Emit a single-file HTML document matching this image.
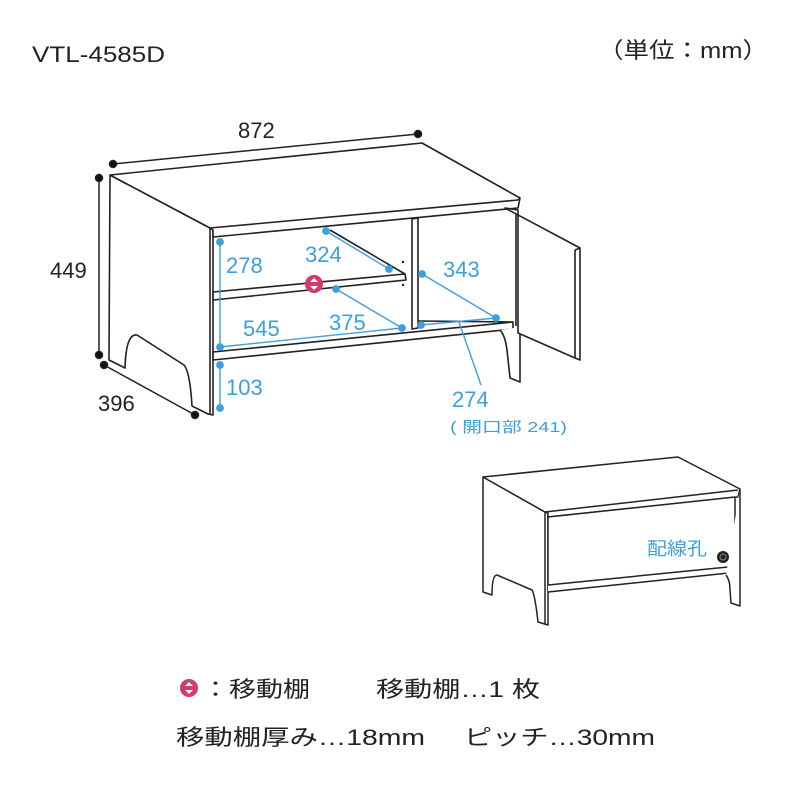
<!DOCTYPE html>
<html><head><meta charset="utf-8"><style>
body{margin:0;background:#fff}
svg{display:block}
text{font-family:"Liberation Sans","Noto Sans CJK JP",sans-serif}
</style></head><body>
<svg width="800" height="800" viewBox="0 0 800 800" xmlns="http://www.w3.org/2000/svg">
<rect width="800" height="800" fill="#fff"/>
<text x="32" y="62" font-size="22" fill="#222" textLength="133" lengthAdjust="spacingAndGlyphs">VTL-4585D</text>
<text x="598" y="58" font-size="22" fill="#222" textLength="170" lengthAdjust="spacingAndGlyphs">（単位：mm）</text>

<g fill="#fff" stroke="#222" stroke-width="1.6" stroke-linejoin="round">
<path d="M110,175 L210,228 L213,230 L213,415 L208,414 L192,406 Q190,372 184,365 L137,335 Q126,333 125,368 L109,360 Z"/>
<path d="M110,175 L422,143 L520,198 L518,208 L213,237 L213,230 L210,228 Z"/>
<line x1="210" y1="228" x2="518" y2="200"/>
<line x1="518" y1="200" x2="520" y2="198"/>
<line x1="210" y1="228" x2="210" y2="414"/>
<path d="M412,219 L418,218 L418,328 L412,329 Z"/>
<path d="M213,292 L405,274 L406,280 L213,300 Z"/>
<line x1="330" y1="230" x2="405" y2="274"/>
<path d="M213,352 L513,322 L513,329 L213,360 Z"/>
<line x1="418" y1="321" x2="513" y2="322"/>
<path d="M500,330 Q505,335 507,350 L510,378 L520,382 L520,327"/>
<line x1="516" y1="210" x2="516" y2="326"/>
<path d="M505,208 L580,248 L580,360 L575,358 L518,333 L518,210 Z"/>
<line x1="575" y1="250" x2="575" y2="358"/>
<line x1="575" y1="250" x2="580" y2="248"/>
</g>
<circle cx="403" cy="262" r="1.2" fill="#222"/><circle cx="403" cy="285" r="1.2" fill="#222"/>

<g stroke="#222" stroke-width="1.5" fill="#111">
<line x1="113" y1="164" x2="418" y2="134"/>
<circle cx="113" cy="164" r="3.5"/><circle cx="418" cy="134" r="3.5"/>
<line x1="99" y1="178" x2="99" y2="355"/>
<circle cx="99" cy="178" r="3.5"/><circle cx="99" cy="355" r="3.5"/>
<line x1="104" y1="365" x2="195" y2="415"/>
<circle cx="104" cy="365" r="3.5"/><circle cx="195" cy="415" r="3.5"/>
</g>
<text x="238" y="138" font-size="22" fill="#222">872</text>
<text x="50" y="278" font-size="22" fill="#222">449</text>
<text x="98" y="411" font-size="22" fill="#222">396</text>

<g stroke="#3d9fdc" stroke-width="1.4" fill="#3d9fdc">
<line x1="220" y1="242" x2="220" y2="347"/><circle cx="220" cy="242" r="3.2"/><circle cx="220" cy="347" r="3.2"/>
<line x1="220" y1="365" x2="220" y2="408"/><circle cx="220" cy="365" r="3.2"/><circle cx="220" cy="408" r="3.2"/>
<line x1="326" y1="231" x2="389" y2="269"/><circle cx="326" cy="231" r="3.2"/><circle cx="389" cy="269" r="3.2"/>
<line x1="336" y1="289" x2="402" y2="328"/><circle cx="336" cy="289" r="3.2"/><circle cx="402" cy="328" r="3.2"/>
<line x1="220" y1="347" x2="402" y2="328"/>
<line x1="422" y1="274" x2="496" y2="318"/><circle cx="422" cy="274" r="3.2"/><circle cx="496" cy="318" r="3.2"/>
<line x1="421" y1="325" x2="496" y2="318"/><circle cx="421" cy="325" r="3.2"/>
<line x1="459" y1="322" x2="481" y2="385"/>
</g>
<g font-size="22" fill="#3d9fdc">
<text x="226" y="273">278</text>
<text x="305" y="262">324</text>
<text x="443" y="277">343</text>
<text x="243" y="336">545</text>
<text x="329" y="330">375</text>
<text x="226" y="395">103</text>
<text x="452" y="407">274</text>
<text x="450" y="432" font-size="15" textLength="117" lengthAdjust="spacingAndGlyphs">( 開口部 241)</text>
</g>
<circle cx="314" cy="284" r="9" fill="#d33b6a"/>
<path d="M314,278 L318,282 L310,282 Z M314,290 L318,286 L310,286 Z" fill="#fff"/>

<g fill="#fff" stroke="#222" stroke-width="1.5" stroke-linejoin="round">
<path d="M483,477 L545,512 L548,513 L548,625 L538,622 Q535,595 532,590 L497,575 Q492,575 492,595 L483,592 Z"/>
<path d="M483,477 L678,457 L740,489 L738,497 L548,517 L548,513 L545,512 Z"/>
<line x1="545" y1="512" x2="738" y2="490"/>
<line x1="545" y1="512" x2="545" y2="624"/>
<path d="M548,517 L735,497 L735,570 L548,590 Z"/>
<path d="M548,585 L738,566 L738,572 L548,592"/>
<path d="M726,575 Q730,580 730,590 L731,603 L740,606 L740,489"/>
</g>
<circle cx="723" cy="557" r="6" fill="#222"/>
<circle cx="723" cy="557" r="3" fill="none" stroke="#888" stroke-width="1"/>
<text x="647" y="555" font-size="18" fill="#3d9fdc" textLength="60" lengthAdjust="spacingAndGlyphs">配線孔</text>

<circle cx="189" cy="688" r="9" fill="#d33b6a"/>
<path d="M189,682 L193,686 L185,686 Z M189,694 L193,690 L185,690 Z" fill="#fff"/>
<text x="202" y="697" font-size="22" fill="#222" textLength="108" lengthAdjust="spacingAndGlyphs">：移動棚</text>
<text x="376" y="697" font-size="22" fill="#222" textLength="164" lengthAdjust="spacingAndGlyphs">移動棚…1 枚</text>
<text x="176" y="745" font-size="22" fill="#222" textLength="249" lengthAdjust="spacingAndGlyphs">移動棚厚み…18mm</text>
<text x="464" y="745" font-size="22" fill="#222" textLength="191" lengthAdjust="spacingAndGlyphs">ピッチ…30mm</text>
</svg>
</body></html>
